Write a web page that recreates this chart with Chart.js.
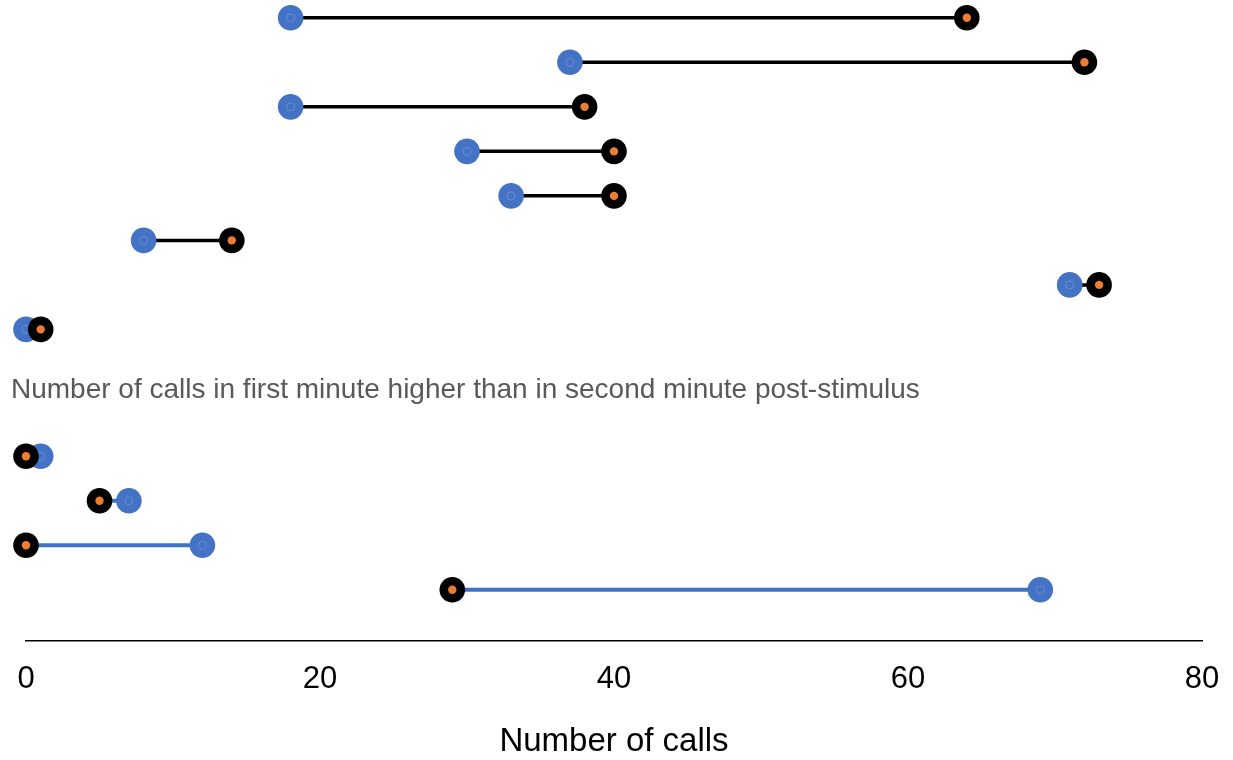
<!DOCTYPE html>
<html lang="en">
<head>
  <meta charset="UTF-8" />
  <title>Number of calls</title>
  <script src="https://cdn.jsdelivr.net/npm/chart.js"></script>
  <style>
    body {
      margin: 0;
      background: #fff;
    }
    .chart-container {
      width: 1233px;
      height: 760px;
      position: relative;
    }
  </style>
</head>
<body>
  <div class="chart-container">
    <canvas id="callsChart"></canvas>
  </div>

  <script>
    // first minute (blue) vs second minute (black/orange) post-stimulus
    const topFirst = [18, 37, 18, 30, 33, 8, 71, 0];
    const topSecond = [64, 72, 38, 40, 40, 14, 73, 1];
    const bottomFirst = [1, 7, 12, 69];
    const bottomSecond = [0, 5, 0, 29];
    const groupLabel = "Number of calls in first minute higher than in second minute post-stimulus";
    const axisTitle = "Number of calls";
    const xTicks = [0, 20, 40, 60, 80];

    // row positions on the hidden y axis
    const LABEL_ROW = 8.36;
    const BOTTOM_START = 9.85;
    const topRows = topFirst.map((v, i) => i);
    const bottomRows = bottomFirst.map((v, i) => BOTTOM_START + i);

    function segments(a, b, rows) {
      const out = [];
      rows.forEach((y, i) => {
        out.push({ x: a[i], y: y });
        out.push({ x: b[i], y: y });
        out.push({ x: null, y: null });
      });
      return out;
    }

    function points(vals, rows) {
      return vals.map((v, i) => ({ x: v, y: rows[i] }));
    }

    const firstPts = points(topFirst, topRows).concat(points(bottomFirst, bottomRows));
    const secondPts = points(topSecond, topRows).concat(points(bottomSecond, bottomRows));

    const labelPlugin = {
      id: "groupLabel",
      afterDraw(chart) {
        const ctx = chart.ctx;
        const y = chart.scales.y.getPixelForValue(LABEL_ROW);
        ctx.save();
        ctx.font = "28px 'Liberation Sans', Arial, sans-serif";
        ctx.fillStyle = "#595959";
        ctx.textAlign = "left";
        ctx.textBaseline = "middle";
        ctx.fillText(groupLabel, 11, y);
        ctx.restore();
      }
    };

    const dotStyle = { showLine: false, clip: false, pointBorderWidth: 0, pointHoverRadius: 0 };

    new Chart(document.getElementById("callsChart").getContext("2d"), {
      type: "scatter",
      data: {
        datasets: [
          Object.assign({ label: "second inner", data: secondPts, order: 0,
            pointRadius: 4.2, pointBackgroundColor: "#ED7D31" }, dotStyle),
          Object.assign({ label: "Second minute", data: secondPts, order: 1,
            pointRadius: 12.8, pointBackgroundColor: "#000000" }, dotStyle),
          { label: "first ring", data: firstPts, order: 2, showLine: false, clip: false,
            pointRadius: 4, pointBackgroundColor: "rgba(0,0,0,0)",
            pointBorderColor: "#6a8ed2", pointBorderWidth: 1 },
          Object.assign({ label: "First minute", data: firstPts, order: 3,
            pointRadius: 12.8, pointBackgroundColor: "#4472C4" }, dotStyle),
          { label: "top lines", data: segments(topFirst, topSecond, topRows), order: 4,
            showLine: true, spanGaps: false, borderColor: "#000000", borderWidth: 3.5,
            pointRadius: 0, clip: false },
          { label: "bottom lines", data: segments(bottomFirst, bottomSecond, bottomRows), order: 5,
            showLine: true, spanGaps: false, borderColor: "#3F72C4", borderWidth: 4,
            pointRadius: 0, clip: false }
        ]
      },
      options: {
        responsive: true,
        maintainAspectRatio: false,
        animation: false,
        events: [],
        layout: {
          autoPadding: false,
          padding: { left: 26, right: 31, top: 0, bottom: 1.5 }
        },
        plugins: {
          legend: { display: false },
          tooltip: { enabled: false }
        },
        scales: {
          x: {
            type: "linear",
            min: xTicks[0],
            max: xTicks[xTicks.length - 1],
            afterBuildTicks(axis) {
              axis.ticks = xTicks.map(v => ({ value: v }));
            },
            grid: { display: false, drawTicks: true, tickLength: 16 },
            border: { display: true, color: "#000000", width: 1.5 },
            ticks: {
              padding: 3.5,
              color: "#000000",
              maxRotation: 0,
              font: { family: "'Liberation Sans', Arial, sans-serif", size: 31 }
            },
            title: {
              display: true,
              text: axisTitle,
              color: "#000000",
              padding: { top: 24.3, bottom: 0 },
              font: { family: "'Liberation Sans', Arial, sans-serif", size: 33, lineHeight: 1 }
            }
          },
          y: {
            type: "linear",
            display: false,
            reverse: true,
            min: -0.4,
            max: 14
          }
        }
      },
      plugins: [labelPlugin]
    });
  </script>
</body>
</html>
